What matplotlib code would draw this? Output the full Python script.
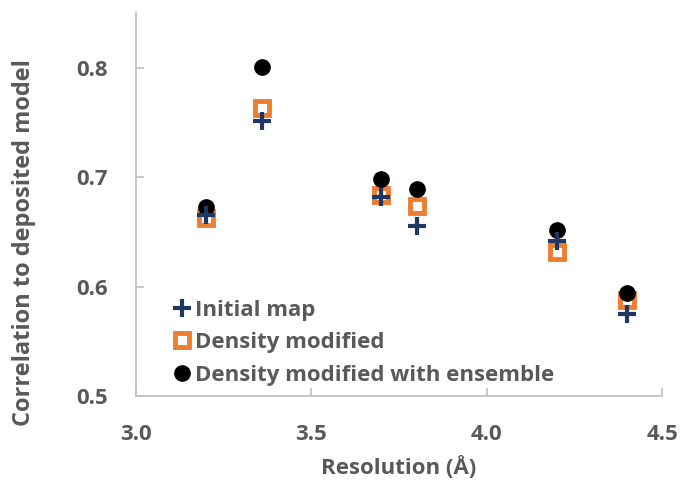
import matplotlib.pyplot as plt

# resolution of each map (Å) and correlation to the deposited model
resolution = [3.2, 3.36, 3.7, 3.8, 4.2, 4.4]
initial_map = [0.665, 0.751, 0.682, 0.655, 0.642, 0.575]
density_modified = [0.663, 0.763, 0.684, 0.674, 0.632, 0.588]
dm_ensemble = [0.673, 0.801, 0.698, 0.689, 0.652, 0.594]

x_ticks = [3.0, 3.5, 4.0, 4.5]
y_ticks = [0.5, 0.6, 0.7, 0.8]

text_color = '#595959'
spine_color = '#bfbfbf'

plt.rcParams['font.family'] = ['Open Sans', 'DejaVu Sans']
plt.rcParams['font.weight'] = 'bold'
plt.rcParams['axes.labelweight'] = 'bold'

fig = plt.figure(figsize=(6.8, 4.83), dpi=100)
ax = fig.add_axes([136 / 680, 1 - 396 / 483, 526 / 680, 383 / 483])

ax.plot(resolution, initial_map, linestyle='none', marker='+', ms=13, mew=3,
        color='#1f3864', label='Initial map', zorder=4)
ax.plot(resolution, density_modified, linestyle='none', marker='s', ms=10, mew=3.5,
        markerfacecolor='white', markeredgecolor='#ed7d31', label='Density modified', zorder=2)
ax.plot(resolution, dm_ensemble, linestyle='none', marker='o', ms=11,
        color='black', label='Density modified with ensemble', zorder=3)

ax.set_xlim(3.0, 4.5)
ax.set_ylim(0.5, 0.85)
ax.set_xticks(x_ticks)
ax.set_xticklabels(['%.1f' % v for v in x_ticks])
ax.set_yticks(y_ticks)
ax.set_yticklabels(['%.1f' % v for v in y_ticks])

for side in ['top', 'right']:
    ax.spines[side].set_visible(False)
for side in ['left', 'bottom']:
    ax.spines[side].set_color(spine_color)
    ax.spines[side].set_linewidth(1.2)

ax.tick_params(direction='in', length=6, width=1.2, color=spine_color,
               labelcolor=text_color, labelsize=16)
ax.tick_params(axis='x', pad=20)
ax.tick_params(axis='y', pad=20)

ax.set_xlabel('Resolution (Å)', fontsize=16, color=text_color, labelpad=8)
ax.set_ylabel('Correlation to deposited model', fontsize=17, color=text_color)
ax.yaxis.set_label_coords(-0.19, 0.40)

leg = ax.legend(loc='lower left', bbox_to_anchor=(0.045, -0.008), frameon=False,
                fontsize=16, handlelength=0.8, handletextpad=0.2, labelspacing=0.52,
                borderaxespad=0.2)
for t in leg.get_texts():
    t.set_color(text_color)

fig.savefig('out.png', dpi=100)
